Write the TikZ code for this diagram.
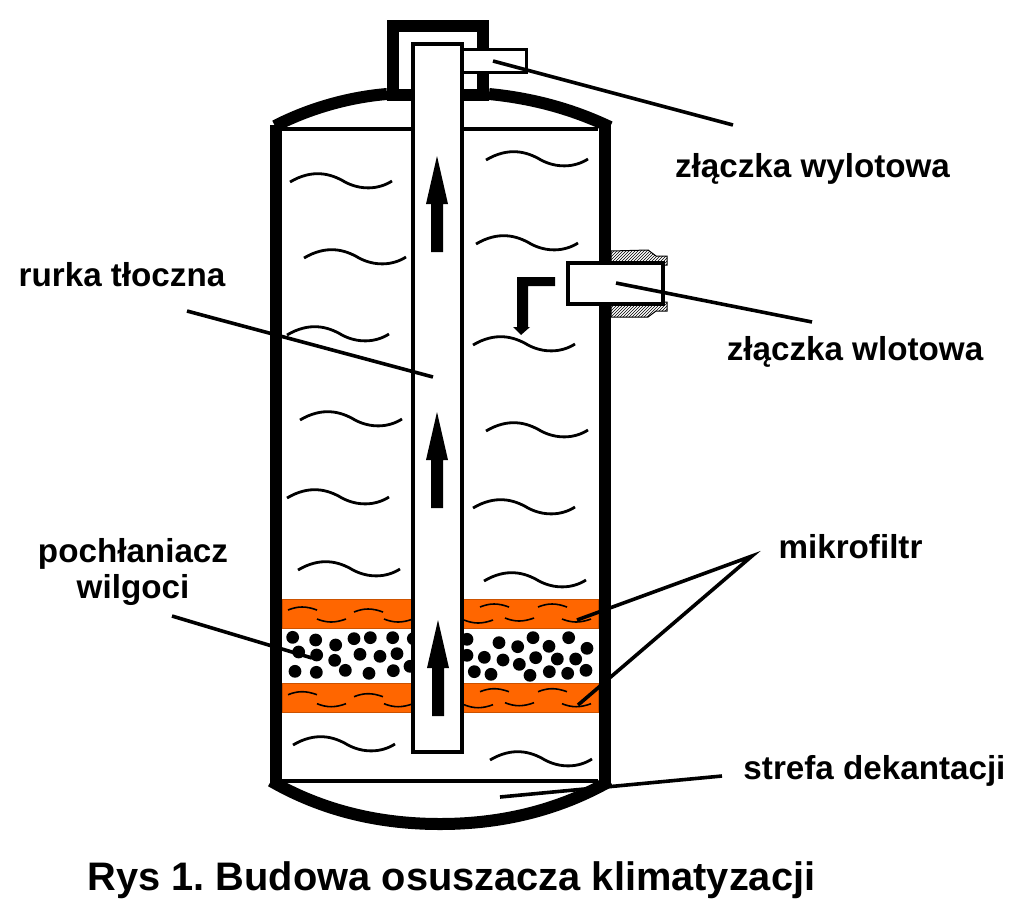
\documentclass[tikz,border=0pt]{standalone}
\usepackage{fontspec}
\setmainfont{Liberation Sans}
\usetikzlibrary{patterns}
\definecolor{bandorange}{RGB}{255,102,0}
\newcommand{\wavy}[2]{\draw[wave,shift={(#1,#2)}] (0,0) .. controls (22,-13) and (40,-9) .. (55,0) .. controls (70,8) and (88,8) .. (102,-1);}
\newcommand{\arcup}[2]{\draw[smallwave,shift={(#1,#2)}] (0,0) .. controls (10,-4) and (18,-4) .. (29,0);}
\newcommand{\arcdn}[2]{\draw[smallwave,shift={(#1,#2)}] (0,0) .. controls (10,4) and (18,4) .. (29,0);}
\newcommand{\uparr}[2]{\fill[shift={(#1,#2)}] (-6,96) -- (-6,48) -- (-11,48) -- (0,0) -- (11,48) -- (6,48) -- (6,96) -- cycle;}
\tikzset{
  wave/.style={line width=2.8pt},
  smallwave/.style={line width=1.6pt},
  wall/.style={line width=12pt},
  leader/.style={line width=3.6pt},
  lab/.style={font=\fontsize{33.2}{36}\selectfont\bfseries,align=center,anchor=base},
  dot/.style={fill=black}
}
\frenchspacing
\begin{document}
\begin{tikzpicture}[x=1pt,y=-1pt]
\useasboundingbox (0,0) rectangle (1024,910);
\fill[white] (0,0) rectangle (1024,910);
% bands
\foreach \y in {599,683}{
  \filldraw[fill=bandorange,draw=bandorange!80!black,line width=.6pt] (282,\y) rectangle (598,\y+29);
}
\foreach \d in {0,84.7}{
  \arcup{288}{610+\d}\arcup{354}{612+\d}\arcup{480}{607+\d}\arcup{538}{607+\d}
  \arcdn{317}{619+\d}\arcdn{384}{619+\d}\arcdn{464}{620+\d}\arcdn{505}{618+\d}\arcdn{562}{619+\d}
}
% dots
\foreach \X/\Y in {83/142,152/150,212/165,267/146,316/143,383/143,445/146,101/186,155/195,209/211,285/193,345/199,396/191,90/244,154/247,241/241,312/250,385/242,435/229,606/148,606/196,702/158,758/170,804/143,852/169,911/143,966/175,658/202,714/210,812/203,877/207,932/207,628/245,678/253,763/223,795/256,853/245,908/250,963/241}{
  \fill[dot] ({265+\X/3},{590+\Y/3}) circle (6.4);
}
% waves
\wavy{290}{182}\wavy{304}{258}\wavy{287}{335}\wavy{300}{420}\wavy{287}{498}\wavy{298}{570}\wavy{293}{745}
\wavy{486}{160}\wavy{476}{244}\wavy{473}{345}\wavy{486}{431}\wavy{473}{508}\wavy{484}{581}\wavy{490}{760}
% body lines
\draw[line width=4pt] (282,129) -- (598,129);
\draw[line width=4pt] (282,781) -- (598,781);
% nut hatching
\filldraw[pattern=north east lines,pattern color=black,draw=black,line width=1pt] (611,251) -- (648,250) -- (656,256) -- (667,256) -- (667,265) -- (611,265) -- cycle;
\filldraw[pattern=north east lines,pattern color=black,draw=black,line width=1pt] (611,317) -- (648,317) -- (656,311) -- (667,311) -- (667,302) -- (611,302) -- cycle;
% walls
\draw[wall,line cap=butt] (276,125) -- (276,785);
\draw[wall,line cap=butt] (604.5,124) -- (604.5,785);
\draw[wall] (275,126) .. controls (310,108) and (350,97) .. (387,94);
\draw[wall] (489,94) .. controls (530,98) and (570,108) .. (610,127);
\draw[wall] (271,781) .. controls (330,815) and (390,824) .. (440,824) .. controls (490,824) and (550,815) .. (610,781);
% cap
\draw[wall,line join=miter] (393,100) -- (393,26) -- (483,26) -- (483,100);
\draw[wall,line cap=butt] (387,94.5) -- (412,94.5);
\draw[wall,line cap=butt] (464,94.5) -- (489,94.5);
% tube
\node[draw,fill=white,line width=4pt,minimum width=49pt,minimum height=708pt,inner sep=0pt,outer sep=0pt] (tube) at (437.5,398) {};
% outlet
\node[draw,fill=white,line width=3pt,minimum width=64pt,minimum height=23pt,inner sep=0pt,outer sep=0pt] (outlet) at (494,61) {};
% inlet
\node[draw,fill=white,line width=4pt,minimum width=95pt,minimum height=41pt,inner sep=0pt,outer sep=0pt] (inlet) at (615.5,283.5) {};
% arrows
\uparr{437}{156}\uparr{437}{412}\uparr{438}{620}
\fill (555,277) -- (517,277) -- (517,327) -- (513,327) -- (521,335) -- (530,327) -- (528,327) -- (528,286) -- (555,286) -- cycle;
% leaders
\coordinate (a1) at (493,61); \coordinate (a2) at (733,125);
\coordinate (b1) at (616,283); \coordinate (b2) at (812,322);
\coordinate (c1) at (187,311); \coordinate (c2) at (433,377);
\coordinate (d1) at (172,616); \coordinate (d2) at (312,658);
\coordinate (e0) at (752,556); \coordinate (e1) at (577,620); \coordinate (e2) at (578,705);
\coordinate (f1) at (722,776); \coordinate (f2) at (500,797);
\draw[leader] (a1) -- (a2);
\draw[leader] (b1) -- (b2);
\draw[leader] (c1) -- (c2);
\draw[leader] (d1) -- (d2);
\draw[leader] (e1) -- (e0) -- (e2);
\draw[leader] (f1) -- (f2);
% labels
\node[lab] (l1) at (812.5,177) {złączka wylotowa};
\node[lab] (l2) at (122,286) {rurka tłoczna};
\node[lab] (l3) at (855,360) {złączka wlotowa};
\node[lab] (l4) at (133,562.5) {pochłaniacz};
\node[lab] (l5) at (133,598.5) {wilgoci};
\node[lab] (l6) at (850.5,558) {mikrofiltr};
\node[lab] (l7) at (874.5,779) {strefa dekantacji};
\node[lab,font=\fontsize{39.8}{44}\selectfont\bfseries] (title) at (451.5,890) {Rys 1. Budowa osuszacza klimatyzacji};
\end{tikzpicture}
\end{document}
